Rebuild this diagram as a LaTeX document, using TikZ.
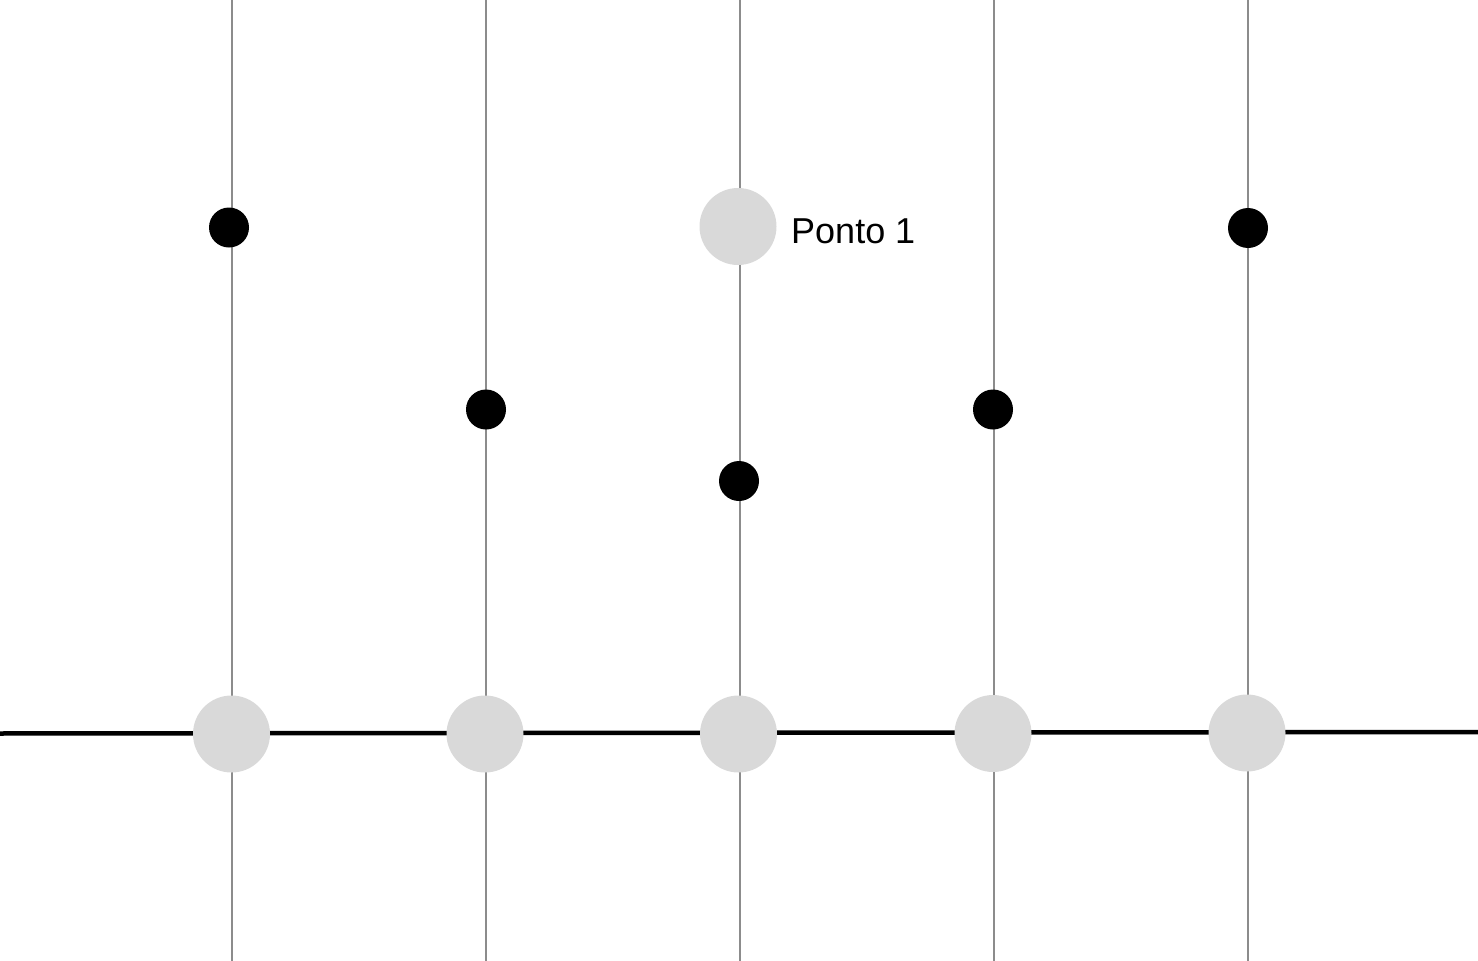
\documentclass[tikz,border=0pt]{standalone}
\usepackage{fontspec}
\setmainfont{Liberation Sans}
\definecolor{circgray}{HTML}{D9D9D9}
\definecolor{linegray}{HTML}{8C8C8C}
\begin{document}
\begin{tikzpicture}[x=1pt,y=-1pt,
  bigdot/.style={circle,fill=circgray,draw=none,minimum size=77pt,inner sep=0pt},
  smalldot/.style={circle,fill=black,draw=none,minimum size=40pt,inner sep=0pt},
  guide/.style={draw=linegray,line width=1.3pt},
  axis/.style={draw=black,line width=4.5pt}]
\useasboundingbox (0,0) rectangle (1478,961);
% coordinates for guides
\foreach \i/\x in {1/232,2/486,3/740,4/994,5/1248}{
  \coordinate (t\i) at (\x,0);
  \coordinate (b\i) at (\x,961);
}
\coordinate (L) at (-5,733.5);
\coordinate (R) at (1483,732);
\foreach \i in {1,...,5}{ \draw[guide] (t\i) -- (b\i); }
\draw[axis] (L) -- (R);
% bottom gray circles
\node[bigdot] (g1) at (231.5,734) {};
\node[bigdot] (g2) at (485,734) {};
\node[bigdot] (g3) at (738.5,734) {};
\node[bigdot] (g4) at (993,733.5) {};
\node[bigdot] (g5) at (1247,733) {};
% top gray circle
\node[bigdot] (p1) at (738,226.5) {};
\node[anchor=base west,font=\fontsize{36}{40}\selectfont,inner sep=0pt] (lab) at (791,243.5) {Ponto 1};
% black dots
\node[smalldot] (d1) at (229,227.5) {};
\node[smalldot] (d2) at (486,409.5) {};
\node[smalldot] (d3) at (739,481) {};
\node[smalldot] (d4) at (993,409.5) {};
\node[smalldot] (d5) at (1248,228) {};
\end{tikzpicture}
\end{document}
